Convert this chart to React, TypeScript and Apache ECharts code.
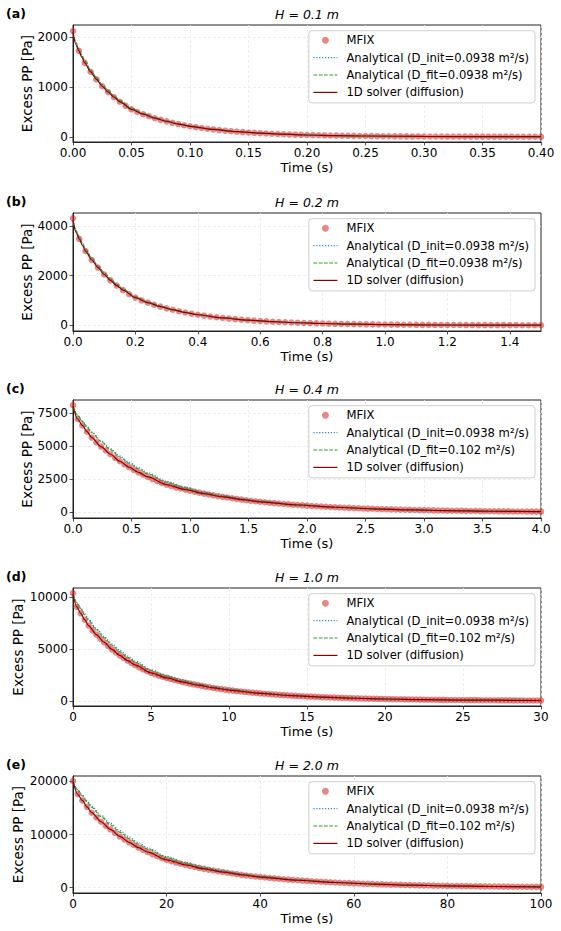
import React, { useEffect, useRef } from 'react';
import * as echarts from 'echarts';

const FONT = 'DejaVu Sans';

// ---------- Panel (a) H = 0.1 m ----------
const MFIX_DT_A = 0.005;
const MFIX_A = [2120, 1722, 1481, 1302, 1151, 1012, 895, 792, 701, 620, 550, 496, 452, 410, 372, 338, 309, 279, 254, 231, 210, 192, 175, 160, 147, 134, 122, 112, 102, 93, 85, 78, 72, 66, 60, 55, 51, 46, 42, 39, 35, 33, 30, 27, 25, 23, 21, 19, 18, 16, 15, 13, 12, 11, 10, 9, 9, 8, 7, 7, 6, 6, 5, 5, 4, 4, 4, 3, 3, 3, 3, 2, 2, 2, 2, 2, 1, 1, 1, 1, 1];
const LINE_T_A = [0, 0.0025, 0.005, 0.0075, 0.01, 0.015, 0.02, 0.025, 0.03, 0.035, 0.04, 0.05, 0.06, 0.07, 0.08, 0.09, 0.1, 0.12, 0.14, 0.16, 0.18, 0.2, 0.225, 0.25, 0.3, 0.35, 0.4];
const INIT_A = [2100, 1890, 1760, 1640, 1525, 1340, 1185, 1045, 925, 818, 725, 570, 466, 383, 317, 261, 216, 150, 104, 73, 51, 35, 23, 15, 6, 3, 1];
const FIT_A = [2100, 1890, 1760, 1640, 1525, 1340, 1185, 1045, 925, 818, 725, 570, 466, 383, 317, 261, 216, 150, 104, 73, 51, 35, 23, 15, 6, 3, 1];
const SOLVER_A = [2100, 1848, 1722, 1596, 1481, 1302, 1151, 1012, 895, 792, 701, 550, 452, 372, 309, 254, 210, 147, 102, 72, 51, 35, 23, 15, 6, 3, 1];
const XTICKS_A = [0, 0.05, 0.1, 0.15, 0.2, 0.25, 0.3, 0.35, 0.4];
const YTICKS_A = [0, 1000, 2000];

// ---------- Panel (b) H = 0.2 m ----------
const MFIX_DT_B = 0.02;
const MFIX_B = [4320, 3485, 2996, 2635, 2329, 2049, 1811, 1602, 1420, 1254, 1114, 1003, 914, 829, 752, 684, 625, 565, 514, 468, 425, 388, 355, 324, 297, 271, 248, 227, 207, 189, 173, 159, 145, 133, 122, 112, 102, 94, 86, 79, 72, 66, 60, 55, 51, 46, 43, 39, 36, 33, 30, 27, 25, 23, 21, 19, 17, 16, 15, 14, 12, 11, 10, 9, 9, 8, 7, 6, 6, 6, 5, 5, 4, 4, 3, 3];
const LINE_T_B = [0, 0.01, 0.02, 0.03, 0.04, 0.06, 0.08, 0.1, 0.12, 0.14, 0.16, 0.2, 0.24, 0.28, 0.32, 0.36, 0.4, 0.48, 0.56, 0.64, 0.72, 0.8, 0.9, 1.0, 1.2, 1.4, 1.5];
const INIT_B = [4250, 3820, 3560, 3310, 3080, 2715, 2400, 2115, 1870, 1655, 1465, 1150, 940, 772, 640, 525, 433, 301, 209, 146, 102, 72, 46, 30, 12, 5, 3];
const FIT_B = [4250, 3820, 3560, 3310, 3080, 2715, 2400, 2115, 1870, 1655, 1465, 1150, 940, 772, 640, 525, 433, 301, 209, 146, 102, 72, 46, 30, 12, 5, 3];
const SOLVER_B = [4250, 3740, 3485, 3230, 2996, 2635, 2329, 2049, 1811, 1602, 1420, 1114, 914, 752, 625, 514, 425, 297, 207, 145, 102, 72, 46, 30, 12, 5, 3];
const XTICKS_B = [0, 0.2, 0.4, 0.6, 0.8, 1.0, 1.2, 1.4];
const YTICKS_B = [0, 2000, 4000];

// ---------- Panel (c) H = 0.4 m ----------
const MFIX_DT_C = 0.04;
const MFIX_C = [8080, 7040, 6560, 6080, 5640, 5280, 4960, 4664, 4384, 4112, 3856, 3624, 3408, 3208, 3016, 2840, 2672, 2512, 2360, 2224, 2096, 1992, 1888, 1800, 1720, 1640, 1560, 1488, 1416, 1352, 1288, 1232, 1176, 1120, 1064, 1016, 968, 920, 880, 840, 800, 765, 731, 699, 668, 638, 610, 584, 558, 534, 510, 488, 466, 446, 426, 407, 390, 373, 356, 341, 326, 312, 298, 286, 274, 262, 250, 240, 230, 220, 210, 202, 193, 184, 176, 169, 162, 154, 148, 142, 135, 130, 124, 118, 114, 109, 104, 99, 95, 91, 87, 83, 80, 77, 74, 70, 67, 64, 62, 58, 56];
const LINE_T_C = [0, 0.04, 0.08, 0.12, 0.16, 0.24, 0.32, 0.4, 0.48, 0.56, 0.64, 0.8, 0.96, 1.12, 1.28, 1.44, 1.6, 1.92, 2.24, 2.56, 2.88, 3.2, 3.6, 4.0];
const INIT_C = [8000, 7330, 6880, 6470, 6080, 5400, 4810, 4260, 3780, 3360, 2980, 2350, 1900, 1550, 1270, 1045, 860, 590, 410, 287, 201, 141, 91, 58];
const FIT_C = [8000, 7300, 6850, 6420, 6020, 5330, 4730, 4180, 3700, 3280, 2900, 2270, 1830, 1490, 1220, 1000, 820, 565, 392, 274, 193, 135, 87, 56];
const SOLVER_C = [8000, 7040, 6560, 6080, 5640, 4960, 4384, 3856, 3408, 3016, 2672, 2096, 1720, 1416, 1176, 968, 800, 558, 390, 274, 193, 135, 87, 56];
const XTICKS_C = [0, 0.5, 1.0, 1.5, 2.0, 2.5, 3.0, 3.5, 4.0];
const YTICKS_C = [0, 2500, 5000, 7500];

// ---------- Panel (d) H = 1.0 m ----------
const MFIX_DT_D = 0.25;
const MFIX_D = [10390, 9064, 8446, 7828, 7262, 6798, 6386, 6005, 5644, 5294, 4965, 4666, 4388, 4130, 3883, 3657, 3440, 3234, 3039, 2863, 2699, 2565, 2431, 2318, 2215, 2112, 2009, 1916, 1823, 1741, 1658, 1586, 1514, 1442, 1370, 1308, 1246, 1185, 1133, 1082, 1030, 985, 941, 900, 860, 822, 786, 752, 719, 687, 657, 628, 600, 574, 549, 524, 502, 480, 458, 439, 419, 402, 384, 368, 352, 337, 322, 309, 296, 283, 271, 260, 248, 237, 227, 217, 208, 199, 191, 182, 174, 167, 160, 152, 146, 140, 134, 128, 123, 117, 112, 107, 103, 99, 95, 91, 87, 82, 79, 75, 72, 69, 66, 64, 61, 58, 56, 54, 52, 48, 46, 44, 42, 41, 39, 37, 36, 34, 33, 31, 30];
const LINE_T_D = [0, 0.25, 0.5, 0.75, 1, 1.5, 2, 2.5, 3, 3.5, 4, 5, 6, 7, 8, 9, 10, 12, 14, 16, 18, 20, 22.5, 25, 30];
const INIT_D = [10300, 9500, 8950, 8400, 7870, 6990, 6220, 5500, 4880, 4330, 3840, 3010, 2450, 2010, 1660, 1360, 1120, 775, 537, 374, 262, 183, 117, 75, 31];
const FIT_D = [10300, 9450, 8880, 8300, 7760, 6860, 6080, 5360, 4740, 4190, 3710, 2900, 2360, 1930, 1590, 1300, 1070, 740, 512, 357, 251, 176, 113, 72, 30];
const SOLVER_D = [10300, 9064, 8446, 7828, 7262, 6386, 5644, 4965, 4388, 3883, 3440, 2699, 2215, 1823, 1514, 1246, 1030, 719, 502, 352, 248, 174, 112, 72, 30];
const XTICKS_D = [0, 5, 10, 15, 20, 25, 30];
const YTICKS_D = [0, 5000, 10000];

// ---------- Panel (e) H = 2.0 m ----------
const MFIX_DT_E = 1;
const MFIX_E = [20050, 17600, 16400, 15200, 14100, 13200, 12400, 11660, 10960, 10280, 9640, 9060, 8520, 8020, 7540, 7100, 6680, 6280, 5900, 5560, 5240, 4980, 4720, 4500, 4300, 4100, 3900, 3720, 3540, 3380, 3220, 3080, 2940, 2800, 2660, 2540, 2420, 2300, 2200, 2100, 2000, 1912, 1828, 1748, 1670, 1596, 1526, 1460, 1396, 1334, 1276, 1220, 1166, 1114, 1066, 1018, 974, 932, 890, 852, 814, 780, 746, 714, 684, 654, 626, 600, 574, 550, 526, 504, 482, 460, 440, 422, 404, 386, 370, 354, 338, 324, 310, 296, 284, 272, 260, 248, 238, 228, 218, 208, 200, 192, 184, 176, 168, 160, 154, 146, 140];
const LINE_T_E = [0, 1, 2, 3, 4, 6, 8, 10, 12, 14, 16, 20, 24, 28, 32, 36, 40, 48, 56, 64, 72, 80, 90, 100];
const INIT_E = [20000, 18450, 17400, 16350, 15330, 13600, 12120, 10730, 9530, 8450, 7480, 5860, 4760, 3890, 3210, 2630, 2160, 1495, 1030, 720, 505, 352, 226, 145];
const FIT_E = [20000, 18350, 17250, 16150, 15100, 13350, 11840, 10440, 9240, 8170, 7220, 5640, 4590, 3740, 3090, 2530, 2080, 1440, 995, 695, 488, 341, 219, 140];
const SOLVER_E = [20000, 17600, 16400, 15200, 14100, 12400, 10960, 9640, 8520, 7540, 6680, 5240, 4300, 3540, 2940, 2420, 2000, 1396, 974, 684, 482, 338, 218, 140];
const XTICKS_E = [0, 20, 40, 60, 80, 100];
const YTICKS_E = [0, 10000, 20000];

const LABELS = ['(a)', '(b)', '(c)', '(d)', '(e)'];
const TITLES = ['H = 0.1 m', 'H = 0.2 m', 'H = 0.4 m', 'H = 1.0 m', 'H = 2.0 m'];
const NAME_MFIX = 'MFIX';
const NAME_INIT = 'Analytical (D_init=0.0938 m²/s)';
const NAME_FIT = ['Analytical (D_fit=0.0938 m²/s)', 'Analytical (D_fit=0.0938 m²/s)', 'Analytical (D_fit=0.102 m²/s)', 'Analytical (D_fit=0.102 m²/s)', 'Analytical (D_fit=0.102 m²/s)'];
const NAME_SOLVER = '1D solver (diffusion)';

const PANELS = [
  { dt: MFIX_DT_A, mfix: MFIX_A, lt: LINE_T_A, init: INIT_A, fit: FIT_A, solver: SOLVER_A, xt: XTICKS_A, yt: YTICKS_A, xmax: 0.4, ymin: -105, ymax: 2240, dec: 2, top: 25, h: 117, nameGap: 39 },
  { dt: MFIX_DT_B, mfix: MFIX_B, lt: LINE_T_B, init: INIT_B, fit: FIT_B, solver: SOLVER_B, xt: XTICKS_B, yt: YTICKS_B, xmax: 1.5, ymin: -230, ymax: 4530, dec: 1, top: 213, h: 118, nameGap: 39 },
  { dt: MFIX_DT_C, mfix: MFIX_C, lt: LINE_T_C, init: INIT_C, fit: FIT_C, solver: SOLVER_C, xt: XTICKS_C, yt: YTICKS_C, xmax: 4.0, ymin: -420, ymax: 8470, dec: 1, top: 400, h: 118, nameGap: 39 },
  { dt: MFIX_DT_D, mfix: MFIX_D, lt: LINE_T_D, init: INIT_D, fit: FIT_D, solver: SOLVER_D, xt: XTICKS_D, yt: YTICKS_D, xmax: 30, ymin: -500, ymax: 10890, dec: 0, top: 588, h: 118, nameGap: 48 },
  { dt: MFIX_DT_E, mfix: MFIX_E, lt: LINE_T_E, init: INIT_E, fit: FIT_E, solver: SOLVER_E, xt: XTICKS_E, yt: YTICKS_E, xmax: 100, ymin: -1000, ymax: 21000, dec: 0, top: 776, h: 117, nameGap: 48 },
];

const GRID_LEFT = 73;
const GRID_RIGHT = 20;
const WIDTH = 561;
const HEIGHT = 931;

const COLOR_MFIX = 'rgba(214,39,40,0.7)';
const COLOR_INIT = '#1f77b4';
const COLOR_FIT = '#2ca02c';
const COLOR_SOLVER = '#8b0000';

function buildOption() {
  const grid: any[] = [];
  const xAxis: any[] = [];
  const yAxis: any[] = [];
  const series: any[] = [];
  const legend: any[] = [];
  const graphic: any[] = [];
  const cx = GRID_LEFT + (WIDTH - GRID_LEFT - GRID_RIGHT) / 2;

  PANELS.forEach((p, i) => {
    grid.push({
      left: GRID_LEFT, right: GRID_RIGHT, top: p.top, height: p.h,
      show: true, borderColor: '#222', borderWidth: 1, backgroundColor: 'transparent',
      containLabel: false, outerBoundsMode: 'none',
    });
    const splitLine = { show: true, lineStyle: { color: '#ebebeb', width: 0.8, type: [3, 2] } };
    xAxis.push({
      type: 'value', gridIndex: i, min: 0, max: p.xmax,
      name: 'Time (s)', nameLocation: 'middle', nameGap: 19, nameMoveOverlap: false,
      nameTextStyle: { fontFamily: FONT, fontSize: 13, color: '#000' },
      axisLine: { show: true, onZero: false, lineStyle: { color: '#222', width: 1 } },
      axisTick: { show: true, length: 3.5, lineStyle: { color: '#222', width: 0.8 }, customValues: p.xt },
      axisLabel: {
        show: true, margin: 5, fontFamily: FONT, fontSize: 12, color: '#000', customValues: p.xt,
        formatter: (v: number) => v.toFixed(p.dec),
      },
      splitLine,
    });
    yAxis.push({
      type: 'value', gridIndex: i, min: p.ymin, max: p.ymax,
      name: 'Excess PP [Pa]', nameLocation: 'middle', nameGap: p.nameGap, nameRotate: 90, nameMoveOverlap: false,
      nameTextStyle: { fontFamily: FONT, fontSize: 13.5, color: '#000' },
      axisLine: { show: true, onZero: false, lineStyle: { color: '#222', width: 1 } },
      axisTick: { show: true, length: 3.5, lineStyle: { color: '#222', width: 0.8 }, customValues: p.yt },
      axisLabel: {
        show: true, margin: 5, fontFamily: FONT, fontSize: 12, color: '#000', customValues: p.yt,
        formatter: (v: number) => String(v),
      },
      splitLine,
    });
    series.push({
      type: 'scatter', name: NAME_MFIX, xAxisIndex: i, yAxisIndex: i,
      data: p.mfix.map((v, k) => [Number((k * p.dt).toFixed(5)), v]),
      symbol: 'circle', symbolSize: 6.5,
      itemStyle: { color: COLOR_MFIX }, z: 2,
    });
    const pairs = (arr: number[]) => arr.map((v, k) => [p.lt[k], v]);
    series.push({
      type: 'line', name: NAME_INIT, xAxisIndex: i, yAxisIndex: i, data: pairs(p.init),
      symbol: 'none', showSymbol: false, smooth: 0.3, smoothMonotone: 'x',
      lineStyle: { color: COLOR_INIT, width: 1.1, type: [1.1, 1.8] }, itemStyle: { color: COLOR_INIT }, z: 3,
    });
    series.push({
      type: 'line', name: NAME_FIT[i], xAxisIndex: i, yAxisIndex: i, data: pairs(p.fit),
      symbol: 'none', showSymbol: false, smooth: 0.3, smoothMonotone: 'x',
      lineStyle: { color: COLOR_FIT, width: 1.1, type: [3.7, 1.6] }, itemStyle: { color: COLOR_FIT }, z: 4,
    });
    series.push({
      type: 'line', name: NAME_SOLVER, xAxisIndex: i, yAxisIndex: i, data: pairs(p.solver),
      symbol: 'none', showSymbol: false, smooth: 0.3, smoothMonotone: 'x',
      lineStyle: { color: COLOR_SOLVER, width: 1.2 }, itemStyle: { color: COLOR_SOLVER }, z: 5,
    });
    const hideSym = { opacity: 0, color: 'transparent', borderColor: 'transparent', borderWidth: 0 };
    legend.push({
      data: [
        { name: NAME_MFIX, icon: 'circle', itemStyle: { color: COLOR_MFIX } },
        { name: NAME_INIT, itemStyle: hideSym, lineStyle: { color: COLOR_INIT, width: 1.1, type: [1.1, 1.8] } },
        { name: NAME_FIT[i], itemStyle: hideSym, lineStyle: { color: COLOR_FIT, width: 1.1, type: [3.7, 1.6] } },
        { name: NAME_SOLVER, itemStyle: hideSym, lineStyle: { color: COLOR_SOLVER, width: 1.2 } },
      ],
      orient: 'vertical', right: 26, top: p.top + 5.7,
      itemWidth: 24, itemHeight: 7, itemGap: 4.4,
      padding: [3, 6, 4, 4],
      backgroundColor: 'rgba(255,255,255,0.85)', borderColor: '#cfcfcf', borderWidth: 1, borderRadius: 3,
      textStyle: { fontFamily: FONT, fontSize: 11.6, color: '#000', lineHeight: 13, padding: [0, 0, 0, 4] },
      selectedMode: false,
    });
    graphic.push({
      type: 'text', x: cx, y: p.top - 11,
      style: { text: TITLES[i], fontFamily: FONT, fontSize: 12.5, fontStyle: 'italic', fill: '#000', textAlign: 'center', textVerticalAlign: 'middle' },
    });
    graphic.push({
      type: 'text', x: 6, y: p.top - 12,
      style: { text: LABELS[i], fontFamily: FONT, fontSize: 12.5, fontWeight: 'bold', fill: '#000', textAlign: 'left', textVerticalAlign: 'middle' },
    });
  });

  return {
    animation: false,
    backgroundColor: '#fff',
    textStyle: { fontFamily: FONT },
    grid, xAxis, yAxis, series, legend, graphic,
  };
}

export default function App() {
  const ref = useRef<HTMLDivElement>(null);
  useEffect(() => {
    if (!ref.current) return;
    const chart = echarts.init(ref.current, null, { renderer: 'svg' });
    chart.setOption(buildOption() as any);
    return () => chart.dispose();
  }, []);
  return <div ref={ref} style={{ position: 'fixed', left: 0, top: 0, width: WIDTH, height: HEIGHT }} />;
}
